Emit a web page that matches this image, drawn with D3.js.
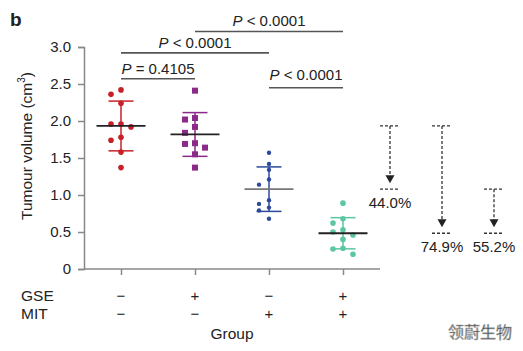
<!DOCTYPE html>
<html>
<head>
<meta charset="utf-8">
<script src="https://cdn.jsdelivr.net/npm/d3@7"></script>
<style>
  body { margin: 0; background: #fff; }
  text { font-family: "Liberation Sans", Arial, sans-serif; fill: #222; }
</style>
</head>
<body>
<div id="chart"></div>
<script>
// groups and their treatment rows
const groups = ["ctrl", "gse", "mit", "gse+mit"];
const gseRow = ["\u2212", "+", "\u2212", "+"];
const mitRow = ["\u2212", "\u2212", "+", "+"];

// tumour volumes per group (cm3)
const volCtrl = [2.42, 2.36, 2.24, 1.96, 1.96, 1.92, 1.78, 1.74, 1.58, 1.37];
const volGse = [2.41, 2.04, 2.02, 1.92, 1.84, 1.70, 1.69, 1.64, 1.55, 1.37];
const volMit = [1.57, 1.42, 1.34, 1.21, 1.14, 0.93, 0.88, 0.83, 0.79, 0.68];
const volBoth = [0.89, 0.68, 0.62, 0.53, 0.50, 0.46, 0.40, 0.28, 0.27, 0.20];

const yTicks = [0, 0.5, 1.0, 1.5, 2.0, 2.5, 3.0];

// significance brackets: group pairs, level (in cm3) and label
const bracketFrom = [0, 0, 1, 2];
const bracketTo = [1, 2, 3, 3];
const bracketLevel = [2.57, 2.92, 3.21, 2.45];
const bracketLabel = ["= 0.4105", "< 0.0001", "< 0.0001", "< 0.0001"];

// reduction arrows (between group means)
const redFrom = [0, 0, 2];
const redTo = [2, 3, 3];
const redLabel = ["44.0%", "74.9%", "55.2%"];

const width = 523, height = 351;
const colors = ["#c62128", "#8c2a8a", "#2c4a9c", "#5cc7a0"];
const meanColors = ["#222", "#222", "#777", "#222"];
const series = [volCtrl, volGse, volMit, volBoth];

const svg = d3.select("#chart").append("svg")
  .attr("width", width)
  .attr("height", height);

const x = d3.scalePoint().domain(groups).range([84, 380]).padding(0.5);
const y = d3.scaleLinear().domain([0, 3]).range([269, 47]);

// y axis
const yAxis = svg.append("g")
  .attr("transform", "translate(84,0)")
  .call(d3.axisLeft(y).tickValues(yTicks).tickSize(6).tickPadding(7)
    .tickFormat(d => d === 0 ? "0" : d3.format(".1f")(d)));
yAxis.selectAll("text").style("font-size", "15px").attr("fill", "#222");

// x axis
const xAxis = svg.append("g")
  .attr("transform", "translate(0,269)")
  .call(d3.axisBottom(x).tickSize(6).tickFormat(""));
xAxis.select(".domain").attr("d", "M84,0H380");

svg.selectAll(".domain, .tick line").attr("stroke", "#888").attr("stroke-width", 1.5);

// y label
const yl = svg.append("text")
  .attr("transform", "translate(32,146) rotate(-90)")
  .attr("text-anchor", "middle")
  .style("font-size", "15.5px");
yl.append("tspan").text("Tumour volume (cm");
yl.append("tspan").attr("dy", -7).style("font-size", "10px").text("3");
yl.append("tspan").attr("dy", 7).text(")");

// treatment rows
[["GSE", gseRow, 301], ["MIT", mitRow, 319]].forEach(([name, row, yy]) => {
  svg.append("text").attr("x", 21).attr("y", yy).style("font-size", "15.5px").text(name);
  svg.selectAll(null).data(groups).enter().append("text")
    .attr("x", d => x(d))
    .attr("y", yy)
    .attr("text-anchor", "middle")
    .style("font-size", "15px")
    .text((d, i) => row[i]);
});

svg.append("text")
  .attr("x", 232).attr("y", 339)
  .attr("text-anchor", "middle")
  .style("font-size", "15.5px")
  .text("Group");

// panel letter
svg.append("text")
  .attr("x", 10).attr("y", 26)
  .style("font-size", "19px").style("font-weight", "bold")
  .attr("fill", "#111")
  .text("b");

// simple dodge so close points sit side by side
function dodge(values, r) {
  const placed = [];
  const slot = 10;
  values.forEach(v => {
    const py = y(v);
    for (const k of [0, -1, 1, -2, 2]) {
      const px = k * slot;
      const hit = placed.some(p => Math.hypot(p.dx - px, p.py - py) < 2 * r + 1.5);
      if (!hit) { placed.push({ v, dx: px, py }); break; }
    }
  });
  return placed;
}

series.forEach((vals, gi) => {
  const g = svg.append("g");
  const cx = x(groups[gi]);
  const m = d3.mean(vals);
  const sd = d3.deviation(vals);

  // sd bar
  g.append("line")
    .attr("x1", cx).attr("x2", cx)
    .attr("y1", y(m + sd)).attr("y2", y(m - sd))
    .attr("stroke", colors[gi]).attr("stroke-width", 1.5);
  [m + sd, m - sd].forEach(v => {
    g.append("line")
      .attr("x1", cx - 12.5).attr("x2", cx + 12.5)
      .attr("y1", y(v)).attr("y2", y(v))
      .attr("stroke", colors[gi]).attr("stroke-width", 1.5);
  });

  const r = gi === 2 ? 2.2 : 2.8;
  const pts = dodge(vals, r);
  if (gi === 1) {
    g.selectAll("rect").data(pts).enter().append("rect")
      .attr("x", d => cx + d.dx - 3)
      .attr("y", d => d.py - 3)
      .attr("width", 6).attr("height", 6)
      .attr("fill", colors[gi]);
  } else {
    g.selectAll("circle").data(pts).enter().append("circle")
      .attr("cx", d => cx + d.dx)
      .attr("cy", d => d.py)
      .attr("r", r)
      .attr("fill", colors[gi]);
  }

  // mean line
  g.append("line")
    .attr("x1", cx - 24.5).attr("x2", cx + 24.5)
    .attr("y1", y(m)).attr("y2", y(m))
    .attr("stroke", meanColors[gi]).attr("stroke-width", 1.8);
});

// significance brackets
bracketLabel.forEach((lab, i) => {
  const x1 = x(groups[bracketFrom[i]]), x2 = x(groups[bracketTo[i]]);
  const yy = y(bracketLevel[i]);
  svg.append("line")
    .attr("x1", x1).attr("x2", x2)
    .attr("y1", yy).attr("y2", yy)
    .attr("stroke", "#555").attr("stroke-width", 1.6);
  const t = svg.append("text")
    .attr("x", (x1 + x2) / 2)
    .attr("y", yy - (i === 3 ? 8 : 5))
    .attr("text-anchor", "middle")
    .style("font-size", "15px");
  t.append("tspan").style("font-style", "italic").text("P");
  t.append("tspan").text(" " + lab);
});

// reduction arrows
const ax = d3.scalePoint().domain(redLabel).range([390, 494]);
const means = series.map(v => d3.mean(v));
redLabel.forEach((lab, i) => {
  const cx = ax(lab);
  const yTop = y(means[redFrom[i]]);
  const yBot = y(means[redTo[i]]);
  const g = svg.append("g").attr("stroke", "#333").attr("stroke-width", 1.3)
    .attr("stroke-dasharray", "3,2");
  g.append("line").attr("x1", cx - 10).attr("x2", cx + 10).attr("y1", yTop).attr("y2", yTop);
  g.append("line").attr("x1", cx - 10).attr("x2", cx + 10).attr("y1", yBot).attr("y2", yBot);
  g.append("line").attr("x1", cx).attr("x2", cx).attr("y1", yTop).attr("y2", yBot - 13);
  svg.append("path")
    .attr("d", `M${cx - 4.5},${yBot - 14}L${cx + 4.5},${yBot - 14}L${cx},${yBot - 6}Z`)
    .attr("fill", "#222");
  svg.append("text")
    .attr("x", cx).attr("y", yBot + 19)
    .attr("text-anchor", "middle")
    .style("font-size", "15px")
    .text(lab);
});

// watermark
svg.append("text")
  .attr("x", 480).attr("y", 338)
  .attr("text-anchor", "middle")
  .style("font-family", "'Noto Sans CJK SC', sans-serif")
  .style("font-size", "16px")
  .attr("fill", "#ffffff")
  .attr("stroke", "#b5b5b5")
  .attr("stroke-width", 0.6)
  .text("领蔚生物");
</script>
</body>
</html>
